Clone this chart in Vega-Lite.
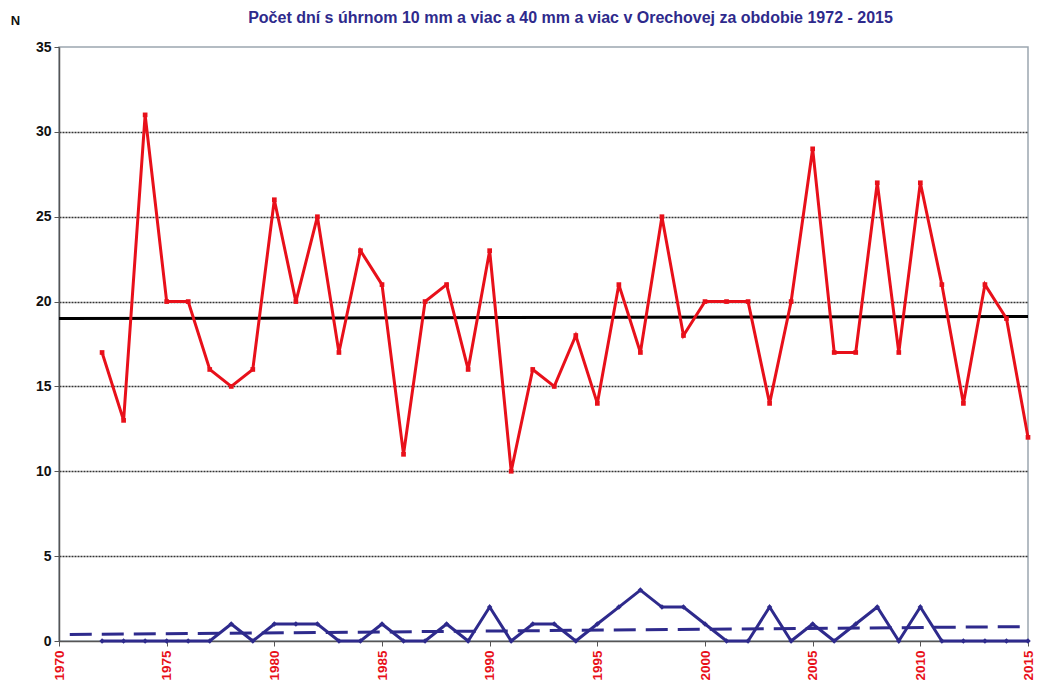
{
  "$schema": "https://vega.github.io/schema/vega-lite/v6.json",
  "autosize": "none",
  "width": 969,
  "height": 594,
  "padding": {"left": 59, "top": 47, "right": 10, "bottom": 46},
  "background": "white",
  "config": {
    "view": {"stroke": "#9ca6b0", "strokeWidth": 1.5},
    "font": "Liberation Sans"
  },
  "title": {
    "text": "Počet dní s úhrnom 10 mm a viac a 40 mm a viac v Orechovej za obdobie 1972 - 2015",
    "font": "Liberation Sans",
    "fontSize": 16,
    "fontWeight": "bold",
    "color": "#2e2a8c",
    "anchor": "middle",
    "dx": 27,
    "offset": -12
  },
  "datasets": {
    "d10": [
      {"year": 1972, "value": 17}, {"year": 1973, "value": 13}, {"year": 1974, "value": 31}, {"year": 1975, "value": 20},
      {"year": 1976, "value": 20}, {"year": 1977, "value": 16}, {"year": 1978, "value": 15}, {"year": 1979, "value": 16},
      {"year": 1980, "value": 26}, {"year": 1981, "value": 20}, {"year": 1982, "value": 25}, {"year": 1983, "value": 17},
      {"year": 1984, "value": 23}, {"year": 1985, "value": 21}, {"year": 1986, "value": 11}, {"year": 1987, "value": 20},
      {"year": 1988, "value": 21}, {"year": 1989, "value": 16}, {"year": 1990, "value": 23}, {"year": 1991, "value": 10},
      {"year": 1992, "value": 16}, {"year": 1993, "value": 15}, {"year": 1994, "value": 18}, {"year": 1995, "value": 14},
      {"year": 1996, "value": 21}, {"year": 1997, "value": 17}, {"year": 1998, "value": 25}, {"year": 1999, "value": 18},
      {"year": 2000, "value": 20}, {"year": 2001, "value": 20}, {"year": 2002, "value": 20}, {"year": 2003, "value": 14},
      {"year": 2004, "value": 20}, {"year": 2005, "value": 29}, {"year": 2006, "value": 17}, {"year": 2007, "value": 17},
      {"year": 2008, "value": 27}, {"year": 2009, "value": 17}, {"year": 2010, "value": 27}, {"year": 2011, "value": 21},
      {"year": 2012, "value": 14}, {"year": 2013, "value": 21}, {"year": 2014, "value": 19}, {"year": 2015, "value": 12}
    ],
    "d40": [
      {"year": 1972, "value": 0}, {"year": 1973, "value": 0}, {"year": 1974, "value": 0}, {"year": 1975, "value": 0},
      {"year": 1976, "value": 0}, {"year": 1977, "value": 0}, {"year": 1978, "value": 1}, {"year": 1979, "value": 0},
      {"year": 1980, "value": 1}, {"year": 1981, "value": 1}, {"year": 1982, "value": 1}, {"year": 1983, "value": 0},
      {"year": 1984, "value": 0}, {"year": 1985, "value": 1}, {"year": 1986, "value": 0}, {"year": 1987, "value": 0},
      {"year": 1988, "value": 1}, {"year": 1989, "value": 0}, {"year": 1990, "value": 2}, {"year": 1991, "value": 0},
      {"year": 1992, "value": 1}, {"year": 1993, "value": 1}, {"year": 1994, "value": 0}, {"year": 1995, "value": 1},
      {"year": 1996, "value": 2}, {"year": 1997, "value": 3}, {"year": 1998, "value": 2}, {"year": 1999, "value": 2},
      {"year": 2000, "value": 1}, {"year": 2001, "value": 0}, {"year": 2002, "value": 0}, {"year": 2003, "value": 2},
      {"year": 2004, "value": 0}, {"year": 2005, "value": 1}, {"year": 2006, "value": 0}, {"year": 2007, "value": 1},
      {"year": 2008, "value": 2}, {"year": 2009, "value": 0}, {"year": 2010, "value": 2}, {"year": 2011, "value": 0},
      {"year": 2012, "value": 0}, {"year": 2013, "value": 0}, {"year": 2014, "value": 0}, {"year": 2015, "value": 0}
    ],
    "t10": [{"year": 1970, "value": 19.0}, {"year": 2015, "value": 19.12}],
    "t40": [{"year": 1970.5, "value": 0.38}, {"year": 2015, "value": 0.85}]
  },
  "encoding": {
    "x": {
      "field": "year", "type": "quantitative",
      "scale": {"domain": [1970, 2015], "nice": false, "zero": false},
      "axis": {
        "values": [1970, 1975, 1980, 1985, 1990, 1995, 2000, 2005, 2010, 2015],
        "format": "d", "title": null, "grid": false,
        "labelAngle": -90, "labelColor": "#e8101a", "labelFont": "Liberation Sans",
        "labelFontSize": 13.5, "labelFontWeight": "bold", "labelPadding": 4,
        "domainColor": "#555", "domainWidth": 1.5, "tickColor": "#555", "tickSize": 5,
        "labelFlush": false, "labelOverlap": false
      }
    },
    "y": {
      "field": "value", "type": "quantitative",
      "scale": {"domain": [0, 35], "nice": false},
      "axis": {
        "values": [0, 5, 10, 15, 20, 25, 30, 35],
        "title": "N", "titleAngle": 0, "titleX": -44, "titleY": -27,
        "titleAlign": "center", "titleBaseline": "middle",
        "titleFont": "Liberation Sans", "titleFontSize": 13, "titleFontWeight": "bold", "titleColor": "#111",
        "labelColor": "#111", "labelFont": "Liberation Sans", "labelFontSize": 14, "labelFontWeight": "bold",
        "labelPadding": 3, "domainColor": "#555", "domainWidth": 1.5, "tickColor": "#555", "tickSize": 5,
        "grid": true, "gridColor": "#333", "gridDash": [2, 1], "gridWidth": 1.5,
        "gridOpacity": {"condition": {"test": "datum.value <= 0 || datum.value >= 35", "value": 0}, "value": 1}
      }
    }
  },
  "layer": [
    {
      "data": {"name": "t10"},
      "mark": {"type": "line", "color": "#000000", "strokeWidth": 3}
    },
    {
      "data": {"name": "t40"},
      "mark": {"type": "line", "color": "#2e2a8c", "strokeWidth": 3, "strokeDash": [22, 10]}
    },
    {
      "data": {"name": "d10"},
      "mark": {"type": "line", "color": "#e8101a", "strokeWidth": 3,
        "point": {"shape": "square", "filled": true, "size": 22, "color": "#e8101a"}}
    },
    {
      "data": {"name": "d40"},
      "mark": {"type": "line", "color": "#2e2a8c", "strokeWidth": 3,
        "point": {"shape": "diamond", "filled": true, "size": 30, "color": "#2e2a8c"}}
    }
  ]
}
